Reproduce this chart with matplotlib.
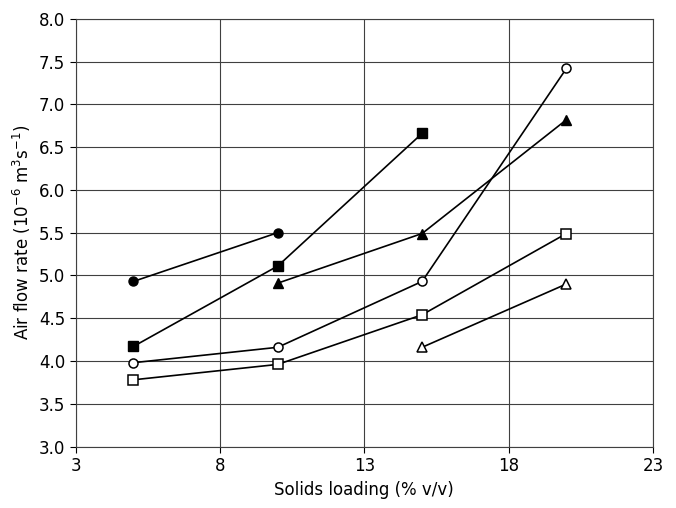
import matplotlib
matplotlib.use("Agg")
from matplotlib import pyplot as plt
import numpy as np

plt.rcParams['mathtext.default'] = 'regular'

# solids loading (% v/v) for each series
x_fcirc = [5, 10]
y_fcirc = [4.93, 5.5]
x_fsq = [5, 10, 15]
y_fsq = [4.17, 5.11, 6.66]
x_ftri = [10, 15, 20]
y_ftri = [4.91, 5.49, 6.82]
x_ocirc = [5, 10, 15, 20]
y_ocirc = [3.98, 4.16, 4.93, 7.42]
x_osq = [5, 10, 15, 20]
y_osq = [3.78, 3.96, 4.54, 5.49]
x_otri = [15, 20]
y_otri = [4.16, 4.9]

xticks = [3, 8, 13, 18, 23]
yticks = np.arange(3.0, 8.01, 0.5)

fig = plt.figure(figsize=(6.76, 5.08), dpi=100)
ax = fig.add_axes([0.112, 0.121, 0.854, 0.842])

lw = 1.2
ms = 6.5
ax.plot(x_fcirc, y_fcirc, 'o-', color='black', lw=lw, ms=ms)
ax.plot(x_fsq, y_fsq, 's-', color='black', lw=lw, ms=ms)
ax.plot(x_ftri, y_ftri, '^-', color='black', lw=lw, ms=ms + 1)
ax.plot(x_ocirc, y_ocirc, 'o-', color='black', lw=lw, ms=ms, mfc='white', mew=1.1)
ax.plot(x_osq, y_osq, 's-', color='black', lw=lw, ms=ms, mfc='white', mew=1.1)
ax.plot(x_otri, y_otri, '^-', color='black', lw=lw, ms=ms + 1, mfc='white', mew=1.1)

ax.set_xlim(3, 23)
ax.set_ylim(3.0, 8.0)
ax.set_xticks(xticks)
ax.set_yticks(yticks)
ax.set_yticklabels(["%.1f" % v for v in yticks])
ax.grid(True, color='0.25', lw=0.8)
ax.set_axisbelow(True)
for s in ax.spines.values():
    s.set_color('0.25')
    s.set_linewidth(0.8)
ax.tick_params(direction='out', length=4, width=0.8, labelsize=12, colors='black')

ax.set_xlabel("Solids loading (% v/v)", fontsize=12)
ax.set_ylabel(r"Air flow rate (10$^{-6}$ m$^{3}$s$^{-1}$)", fontsize=12)

fig.savefig("out.png", dpi=100)
